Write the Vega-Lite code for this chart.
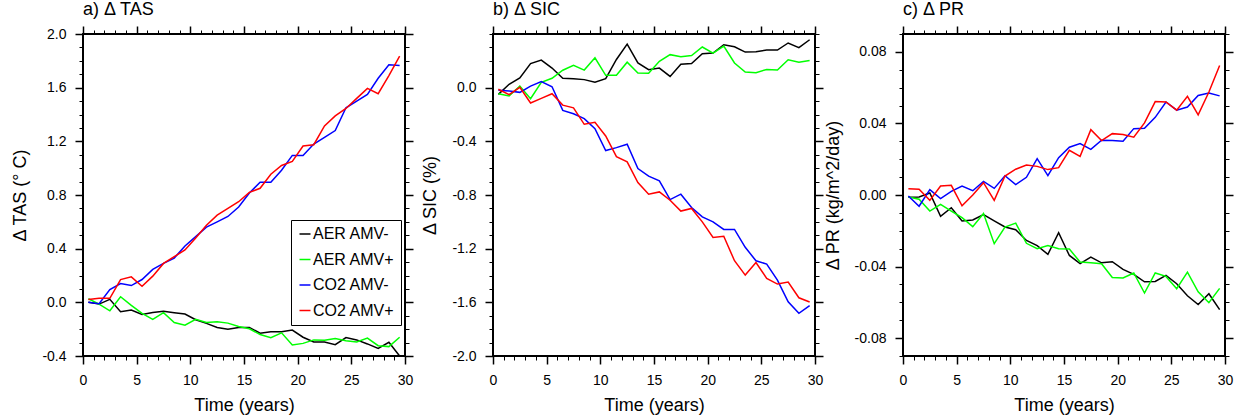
{
"$schema": "https://vega.github.io/schema/vega-lite/v6.json",
"padding": {"left": 10, "top": 0, "right": 5, "bottom": 0},
"spacing": 88,
"bounds": "flush",
"resolve": {"scale": {"color": "independent"}, "legend": {"color": "independent"}},
"config": {
  "font": "Liberation Sans",
  "view": {"stroke": "black", "strokeWidth": 2},
  "locale": {"number": {"decimal": ".", "thousands": ",", "grouping": [3], "currency": ["$", ""], "minus": "-"}},
  "axis": {"domain": false, "grid": false, "tickColor": "black", "labelColor": "black", "titleColor": "black", "labelFont": "Liberation Sans", "titleFont": "Liberation Sans", "labelFontSize": 14, "titleFontSize": 18, "titleFontWeight": "normal", "labelFlush": false, "labelOverlap": false},
  "legend": {"labelFont": "Liberation Sans"}
},
"datasets": {
"tas": [
{"t":0.5,"s":"AER AMV-","v":0.0},{"t":1.5,"s":"AER AMV-","v":-0.013},{"t":2.5,"s":"AER AMV-","v":0.022},{"t":3.5,"s":"AER AMV-","v":-0.07},{"t":4.5,"s":"AER AMV-","v":-0.058},{"t":5.5,"s":"AER AMV-","v":-0.09},{"t":6.5,"s":"AER AMV-","v":-0.075},{"t":7.5,"s":"AER AMV-","v":-0.067},{"t":8.5,"s":"AER AMV-","v":-0.077},{"t":9.5,"s":"AER AMV-","v":-0.087},{"t":10.5,"s":"AER AMV-","v":-0.13},{"t":11.5,"s":"AER AMV-","v":-0.157},{"t":12.5,"s":"AER AMV-","v":-0.187},{"t":13.5,"s":"AER AMV-","v":-0.2},{"t":14.5,"s":"AER AMV-","v":-0.187},{"t":15.5,"s":"AER AMV-","v":-0.187},{"t":16.5,"s":"AER AMV-","v":-0.23},{"t":17.5,"s":"AER AMV-","v":-0.22},{"t":18.5,"s":"AER AMV-","v":-0.22},{"t":19.5,"s":"AER AMV-","v":-0.207},{"t":20.5,"s":"AER AMV-","v":-0.26},{"t":21.5,"s":"AER AMV-","v":-0.296},{"t":22.5,"s":"AER AMV-","v":-0.296},{"t":23.5,"s":"AER AMV-","v":-0.316},{"t":24.5,"s":"AER AMV-","v":-0.263},{"t":25.5,"s":"AER AMV-","v":-0.28},{"t":26.5,"s":"AER AMV-","v":-0.31},{"t":27.5,"s":"AER AMV-","v":-0.343},{"t":28.5,"s":"AER AMV-","v":-0.298},{"t":29.5,"s":"AER AMV-","v":-0.4},
{"t":0.5,"s":"AER AMV+","v":0.027},{"t":1.5,"s":"AER AMV+","v":-0.013},{"t":2.5,"s":"AER AMV+","v":-0.063},{"t":3.5,"s":"AER AMV+","v":0.042},{"t":4.5,"s":"AER AMV+","v":-0.023},{"t":5.5,"s":"AER AMV+","v":-0.083},{"t":6.5,"s":"AER AMV+","v":-0.127},{"t":7.5,"s":"AER AMV+","v":-0.077},{"t":8.5,"s":"AER AMV+","v":-0.15},{"t":9.5,"s":"AER AMV+","v":-0.17},{"t":10.5,"s":"AER AMV+","v":-0.127},{"t":11.5,"s":"AER AMV+","v":-0.15},{"t":12.5,"s":"AER AMV+","v":-0.145},{"t":13.5,"s":"AER AMV+","v":-0.155},{"t":14.5,"s":"AER AMV+","v":-0.18},{"t":15.5,"s":"AER AMV+","v":-0.197},{"t":16.5,"s":"AER AMV+","v":-0.24},{"t":17.5,"s":"AER AMV+","v":-0.263},{"t":18.5,"s":"AER AMV+","v":-0.227},{"t":19.5,"s":"AER AMV+","v":-0.318},{"t":20.5,"s":"AER AMV+","v":-0.306},{"t":21.5,"s":"AER AMV+","v":-0.28},{"t":22.5,"s":"AER AMV+","v":-0.283},{"t":23.5,"s":"AER AMV+","v":-0.27},{"t":24.5,"s":"AER AMV+","v":-0.287},{"t":25.5,"s":"AER AMV+","v":-0.296},{"t":26.5,"s":"AER AMV+","v":-0.266},{"t":27.5,"s":"AER AMV+","v":-0.323},{"t":28.5,"s":"AER AMV+","v":-0.33},{"t":29.5,"s":"AER AMV+","v":-0.26},
{"t":0.5,"s":"CO2 AMV-","v":0.0},{"t":1.5,"s":"CO2 AMV-","v":-0.01},{"t":2.5,"s":"CO2 AMV-","v":0.095},{"t":3.5,"s":"CO2 AMV-","v":0.14},{"t":4.5,"s":"CO2 AMV-","v":0.125},{"t":5.5,"s":"CO2 AMV-","v":0.17},{"t":6.5,"s":"CO2 AMV-","v":0.245},{"t":7.5,"s":"CO2 AMV-","v":0.29},{"t":8.5,"s":"CO2 AMV-","v":0.33},{"t":9.5,"s":"CO2 AMV-","v":0.42},{"t":10.5,"s":"CO2 AMV-","v":0.49},{"t":11.5,"s":"CO2 AMV-","v":0.56},{"t":12.5,"s":"CO2 AMV-","v":0.6},{"t":13.5,"s":"CO2 AMV-","v":0.64},{"t":14.5,"s":"CO2 AMV-","v":0.71},{"t":15.5,"s":"CO2 AMV-","v":0.815},{"t":16.5,"s":"CO2 AMV-","v":0.895},{"t":17.5,"s":"CO2 AMV-","v":0.895},{"t":18.5,"s":"CO2 AMV-","v":0.985},{"t":19.5,"s":"CO2 AMV-","v":1.095},{"t":20.5,"s":"CO2 AMV-","v":1.095},{"t":21.5,"s":"CO2 AMV-","v":1.18},{"t":22.5,"s":"CO2 AMV-","v":1.23},{"t":23.5,"s":"CO2 AMV-","v":1.28},{"t":24.5,"s":"CO2 AMV-","v":1.45},{"t":25.5,"s":"CO2 AMV-","v":1.5},{"t":26.5,"s":"CO2 AMV-","v":1.55},{"t":27.5,"s":"CO2 AMV-","v":1.67},{"t":28.5,"s":"CO2 AMV-","v":1.77},{"t":29.5,"s":"CO2 AMV-","v":1.765},
{"t":0.5,"s":"CO2 AMV+","v":0.022},{"t":1.5,"s":"CO2 AMV+","v":0.03},{"t":2.5,"s":"CO2 AMV+","v":0.03},{"t":3.5,"s":"CO2 AMV+","v":0.17},{"t":4.5,"s":"CO2 AMV+","v":0.19},{"t":5.5,"s":"CO2 AMV+","v":0.12},{"t":6.5,"s":"CO2 AMV+","v":0.195},{"t":7.5,"s":"CO2 AMV+","v":0.29},{"t":8.5,"s":"CO2 AMV+","v":0.34},{"t":9.5,"s":"CO2 AMV+","v":0.39},{"t":10.5,"s":"CO2 AMV+","v":0.48},{"t":11.5,"s":"CO2 AMV+","v":0.575},{"t":12.5,"s":"CO2 AMV+","v":0.65},{"t":13.5,"s":"CO2 AMV+","v":0.7},{"t":14.5,"s":"CO2 AMV+","v":0.75},{"t":15.5,"s":"CO2 AMV+","v":0.82},{"t":16.5,"s":"CO2 AMV+","v":0.85},{"t":17.5,"s":"CO2 AMV+","v":0.955},{"t":18.5,"s":"CO2 AMV+","v":1.02},{"t":19.5,"s":"CO2 AMV+","v":1.05},{"t":20.5,"s":"CO2 AMV+","v":1.165},{"t":21.5,"s":"CO2 AMV+","v":1.175},{"t":22.5,"s":"CO2 AMV+","v":1.315},{"t":23.5,"s":"CO2 AMV+","v":1.39},{"t":24.5,"s":"CO2 AMV+","v":1.445},{"t":25.5,"s":"CO2 AMV+","v":1.52},{"t":26.5,"s":"CO2 AMV+","v":1.595},{"t":27.5,"s":"CO2 AMV+","v":1.555},{"t":28.5,"s":"CO2 AMV+","v":1.69},{"t":29.5,"s":"CO2 AMV+","v":1.835}
],
"sic": [
{"t":0.5,"s":"AER AMV-","v":-0.05},{"t":1.5,"s":"AER AMV-","v":0.025},{"t":2.5,"s":"AER AMV-","v":0.072},{"t":3.5,"s":"AER AMV-","v":0.18},{"t":4.5,"s":"AER AMV-","v":0.206},{"t":5.5,"s":"AER AMV-","v":0.146},{"t":6.5,"s":"AER AMV-","v":0.07},{"t":7.5,"s":"AER AMV-","v":0.067},{"t":8.5,"s":"AER AMV-","v":0.06},{"t":9.5,"s":"AER AMV-","v":0.04},{"t":10.5,"s":"AER AMV-","v":0.067},{"t":11.5,"s":"AER AMV-","v":0.21},{"t":12.5,"s":"AER AMV-","v":0.325},{"t":13.5,"s":"AER AMV-","v":0.184},{"t":14.5,"s":"AER AMV-","v":0.134},{"t":15.5,"s":"AER AMV-","v":0.146},{"t":16.5,"s":"AER AMV-","v":0.084},{"t":17.5,"s":"AER AMV-","v":0.174},{"t":18.5,"s":"AER AMV-","v":0.18},{"t":19.5,"s":"AER AMV-","v":0.253},{"t":20.5,"s":"AER AMV-","v":0.258},{"t":21.5,"s":"AER AMV-","v":0.32},{"t":22.5,"s":"AER AMV-","v":0.305},{"t":23.5,"s":"AER AMV-","v":0.265},{"t":24.5,"s":"AER AMV-","v":0.268},{"t":25.5,"s":"AER AMV-","v":0.28},{"t":26.5,"s":"AER AMV-","v":0.28},{"t":27.5,"s":"AER AMV-","v":0.333},{"t":28.5,"s":"AER AMV-","v":0.298},{"t":29.5,"s":"AER AMV-","v":0.357},
{"t":0.5,"s":"AER AMV+","v":-0.045},{"t":1.5,"s":"AER AMV+","v":-0.062},{"t":2.5,"s":"AER AMV+","v":0.012},{"t":3.5,"s":"AER AMV+","v":-0.082},{"t":4.5,"s":"AER AMV+","v":0.04},{"t":5.5,"s":"AER AMV+","v":0.07},{"t":6.5,"s":"AER AMV+","v":0.13},{"t":7.5,"s":"AER AMV+","v":0.166},{"t":8.5,"s":"AER AMV+","v":0.131},{"t":9.5,"s":"AER AMV+","v":0.223},{"t":10.5,"s":"AER AMV+","v":0.092},{"t":11.5,"s":"AER AMV+","v":0.092},{"t":12.5,"s":"AER AMV+","v":0.19},{"t":13.5,"s":"AER AMV+","v":0.11},{"t":14.5,"s":"AER AMV+","v":0.107},{"t":15.5,"s":"AER AMV+","v":0.196},{"t":16.5,"s":"AER AMV+","v":0.246},{"t":17.5,"s":"AER AMV+","v":0.231},{"t":18.5,"s":"AER AMV+","v":0.24},{"t":19.5,"s":"AER AMV+","v":0.303},{"t":20.5,"s":"AER AMV+","v":0.258},{"t":21.5,"s":"AER AMV+","v":0.31},{"t":22.5,"s":"AER AMV+","v":0.184},{"t":23.5,"s":"AER AMV+","v":0.117},{"t":24.5,"s":"AER AMV+","v":0.112},{"t":25.5,"s":"AER AMV+","v":0.136},{"t":26.5,"s":"AER AMV+","v":0.131},{"t":27.5,"s":"AER AMV+","v":0.208},{"t":28.5,"s":"AER AMV+","v":0.19},{"t":29.5,"s":"AER AMV+","v":0.203},
{"t":0.5,"s":"CO2 AMV-","v":-0.02},{"t":1.5,"s":"CO2 AMV-","v":-0.025},{"t":2.5,"s":"CO2 AMV-","v":-0.035},{"t":3.5,"s":"CO2 AMV-","v":0.012},{"t":4.5,"s":"CO2 AMV-","v":0.045},{"t":5.5,"s":"CO2 AMV-","v":0.007},{"t":6.5,"s":"CO2 AMV-","v":-0.169},{"t":7.5,"s":"CO2 AMV-","v":-0.194},{"t":8.5,"s":"CO2 AMV-","v":-0.231},{"t":9.5,"s":"CO2 AMV-","v":-0.305},{"t":10.5,"s":"CO2 AMV-","v":-0.469},{"t":11.5,"s":"CO2 AMV-","v":-0.447},{"t":12.5,"s":"CO2 AMV-","v":-0.422},{"t":13.5,"s":"CO2 AMV-","v":-0.603},{"t":14.5,"s":"CO2 AMV-","v":-0.66},{"t":15.5,"s":"CO2 AMV-","v":-0.695},{"t":16.5,"s":"CO2 AMV-","v":-0.834},{"t":17.5,"s":"CO2 AMV-","v":-0.794},{"t":18.5,"s":"CO2 AMV-","v":-0.893},{"t":19.5,"s":"CO2 AMV-","v":-0.963},{"t":20.5,"s":"CO2 AMV-","v":-1.0},{"t":21.5,"s":"CO2 AMV-","v":-1.057},{"t":22.5,"s":"CO2 AMV-","v":-1.057},{"t":23.5,"s":"CO2 AMV-","v":-1.19},{"t":24.5,"s":"CO2 AMV-","v":-1.29},{"t":25.5,"s":"CO2 AMV-","v":-1.315},{"t":26.5,"s":"CO2 AMV-","v":-1.434},{"t":27.5,"s":"CO2 AMV-","v":-1.596},{"t":28.5,"s":"CO2 AMV-","v":-1.682},{"t":29.5,"s":"CO2 AMV-","v":-1.625},
{"t":0.5,"s":"CO2 AMV+","v":-0.012},{"t":1.5,"s":"CO2 AMV+","v":-0.052},{"t":2.5,"s":"CO2 AMV+","v":0.003},{"t":3.5,"s":"CO2 AMV+","v":-0.114},{"t":4.5,"s":"CO2 AMV+","v":-0.08},{"t":5.5,"s":"CO2 AMV+","v":-0.045},{"t":6.5,"s":"CO2 AMV+","v":-0.13},{"t":7.5,"s":"CO2 AMV+","v":-0.15},{"t":8.5,"s":"CO2 AMV+","v":-0.273},{"t":9.5,"s":"CO2 AMV+","v":-0.258},{"t":10.5,"s":"CO2 AMV+","v":-0.36},{"t":11.5,"s":"CO2 AMV+","v":-0.514},{"t":12.5,"s":"CO2 AMV+","v":-0.553},{"t":13.5,"s":"CO2 AMV+","v":-0.707},{"t":14.5,"s":"CO2 AMV+","v":-0.794},{"t":15.5,"s":"CO2 AMV+","v":-0.777},{"t":16.5,"s":"CO2 AMV+","v":-0.839},{"t":17.5,"s":"CO2 AMV+","v":-0.92},{"t":18.5,"s":"CO2 AMV+","v":-0.9},{"t":19.5,"s":"CO2 AMV+","v":-1.0},{"t":20.5,"s":"CO2 AMV+","v":-1.117},{"t":21.5,"s":"CO2 AMV+","v":-1.107},{"t":22.5,"s":"CO2 AMV+","v":-1.29},{"t":23.5,"s":"CO2 AMV+","v":-1.397},{"t":24.5,"s":"CO2 AMV+","v":-1.303},{"t":25.5,"s":"CO2 AMV+","v":-1.422},{"t":26.5,"s":"CO2 AMV+","v":-1.464},{"t":27.5,"s":"CO2 AMV+","v":-1.449},{"t":28.5,"s":"CO2 AMV+","v":-1.566},{"t":29.5,"s":"CO2 AMV+","v":-1.598}
],
"pr": [
{"t":0.5,"s":"AER AMV-","v":-0.0013},{"t":1.5,"s":"AER AMV-","v":-0.0011},{"t":2.5,"s":"AER AMV-","v":0.0011},{"t":3.5,"s":"AER AMV-","v":-0.0119},{"t":4.5,"s":"AER AMV-","v":-0.0071},{"t":5.5,"s":"AER AMV-","v":-0.0145},{"t":6.5,"s":"AER AMV-","v":-0.014},{"t":7.5,"s":"AER AMV-","v":-0.011},{"t":8.5,"s":"AER AMV-","v":-0.0145},{"t":9.5,"s":"AER AMV-","v":-0.0179},{"t":10.5,"s":"AER AMV-","v":-0.0194},{"t":11.5,"s":"AER AMV-","v":-0.0254},{"t":12.5,"s":"AER AMV-","v":-0.0283},{"t":13.5,"s":"AER AMV-","v":-0.0332},{"t":14.5,"s":"AER AMV-","v":-0.0211},{"t":15.5,"s":"AER AMV-","v":-0.0338},{"t":16.5,"s":"AER AMV-","v":-0.0384},{"t":17.5,"s":"AER AMV-","v":-0.0347},{"t":18.5,"s":"AER AMV-","v":-0.0379},{"t":19.5,"s":"AER AMV-","v":-0.0373},{"t":20.5,"s":"AER AMV-","v":-0.0416},{"t":21.5,"s":"AER AMV-","v":-0.0444},{"t":22.5,"s":"AER AMV-","v":-0.0485},{"t":23.5,"s":"AER AMV-","v":-0.0483},{"t":24.5,"s":"AER AMV-","v":-0.0449},{"t":25.5,"s":"AER AMV-","v":-0.0496},{"t":26.5,"s":"AER AMV-","v":-0.0563},{"t":27.5,"s":"AER AMV-","v":-0.0612},{"t":28.5,"s":"AER AMV-","v":-0.0552},{"t":29.5,"s":"AER AMV-","v":-0.0641},
{"t":0.5,"s":"AER AMV+","v":-0.0011},{"t":1.5,"s":"AER AMV+","v":-0.0024},{"t":2.5,"s":"AER AMV+","v":-0.009},{"t":3.5,"s":"AER AMV+","v":-0.0052},{"t":4.5,"s":"AER AMV+","v":-0.009},{"t":5.5,"s":"AER AMV+","v":-0.0127},{"t":6.5,"s":"AER AMV+","v":-0.0177},{"t":7.5,"s":"AER AMV+","v":-0.0104},{"t":8.5,"s":"AER AMV+","v":-0.0272},{"t":9.5,"s":"AER AMV+","v":-0.0179},{"t":10.5,"s":"AER AMV+","v":-0.0157},{"t":11.5,"s":"AER AMV+","v":-0.027},{"t":12.5,"s":"AER AMV+","v":-0.03},{"t":13.5,"s":"AER AMV+","v":-0.0282},{"t":14.5,"s":"AER AMV+","v":-0.03},{"t":15.5,"s":"AER AMV+","v":-0.0302},{"t":16.5,"s":"AER AMV+","v":-0.0375},{"t":17.5,"s":"AER AMV+","v":-0.0379},{"t":18.5,"s":"AER AMV+","v":-0.0384},{"t":19.5,"s":"AER AMV+","v":-0.0461},{"t":20.5,"s":"AER AMV+","v":-0.0464},{"t":21.5,"s":"AER AMV+","v":-0.0436},{"t":22.5,"s":"AER AMV+","v":-0.0548},{"t":23.5,"s":"AER AMV+","v":-0.0436},{"t":24.5,"s":"AER AMV+","v":-0.0455},{"t":25.5,"s":"AER AMV+","v":-0.0524},{"t":26.5,"s":"AER AMV+","v":-0.0431},{"t":27.5,"s":"AER AMV+","v":-0.0541},{"t":28.5,"s":"AER AMV+","v":-0.0602},{"t":29.5,"s":"AER AMV+","v":-0.0522},
{"t":0.5,"s":"CO2 AMV-","v":-0.0006},{"t":1.5,"s":"CO2 AMV-","v":-0.0063},{"t":2.5,"s":"CO2 AMV-","v":0.003},{"t":3.5,"s":"CO2 AMV-","v":-0.002},{"t":4.5,"s":"CO2 AMV-","v":0.002},{"t":5.5,"s":"CO2 AMV-","v":0.005},{"t":6.5,"s":"CO2 AMV-","v":0.0024},{"t":7.5,"s":"CO2 AMV-","v":0.0076},{"t":8.5,"s":"CO2 AMV-","v":0.0037},{"t":9.5,"s":"CO2 AMV-","v":0.0108},{"t":10.5,"s":"CO2 AMV-","v":0.0058},{"t":11.5,"s":"CO2 AMV-","v":0.0099},{"t":12.5,"s":"CO2 AMV-","v":0.0203},{"t":13.5,"s":"CO2 AMV-","v":0.0108},{"t":14.5,"s":"CO2 AMV-","v":0.0209},{"t":15.5,"s":"CO2 AMV-","v":0.0267},{"t":16.5,"s":"CO2 AMV-","v":0.0287},{"t":17.5,"s":"CO2 AMV-","v":0.0255},{"t":18.5,"s":"CO2 AMV-","v":0.0306},{"t":19.5,"s":"CO2 AMV-","v":0.0304},{"t":20.5,"s":"CO2 AMV-","v":0.03},{"t":21.5,"s":"CO2 AMV-","v":0.0371},{"t":22.5,"s":"CO2 AMV-","v":0.0373},{"t":23.5,"s":"CO2 AMV-","v":0.0434},{"t":24.5,"s":"CO2 AMV-","v":0.052},{"t":25.5,"s":"CO2 AMV-","v":0.0474},{"t":26.5,"s":"CO2 AMV-","v":0.0492},{"t":27.5,"s":"CO2 AMV-","v":0.0556},{"t":28.5,"s":"CO2 AMV-","v":0.057},{"t":29.5,"s":"CO2 AMV-","v":0.0554},
{"t":0.5,"s":"CO2 AMV+","v":0.0035},{"t":1.5,"s":"CO2 AMV+","v":0.0032},{"t":2.5,"s":"CO2 AMV+","v":-0.003},{"t":3.5,"s":"CO2 AMV+","v":0.005},{"t":4.5,"s":"CO2 AMV+","v":0.0054},{"t":5.5,"s":"CO2 AMV+","v":-0.006},{"t":6.5,"s":"CO2 AMV+","v":0.0},{"t":7.5,"s":"CO2 AMV+","v":0.0069},{"t":8.5,"s":"CO2 AMV+","v":-0.003},{"t":9.5,"s":"CO2 AMV+","v":0.0106},{"t":10.5,"s":"CO2 AMV+","v":0.0144},{"t":11.5,"s":"CO2 AMV+","v":0.0168},{"t":12.5,"s":"CO2 AMV+","v":0.016},{"t":13.5,"s":"CO2 AMV+","v":0.0142},{"t":14.5,"s":"CO2 AMV+","v":0.0153},{"t":15.5,"s":"CO2 AMV+","v":0.025},{"t":16.5,"s":"CO2 AMV+","v":0.0216},{"t":17.5,"s":"CO2 AMV+","v":0.0365},{"t":18.5,"s":"CO2 AMV+","v":0.0304},{"t":19.5,"s":"CO2 AMV+","v":0.0343},{"t":20.5,"s":"CO2 AMV+","v":0.0338},{"t":21.5,"s":"CO2 AMV+","v":0.0323},{"t":22.5,"s":"CO2 AMV+","v":0.0403},{"t":23.5,"s":"CO2 AMV+","v":0.0522},{"t":24.5,"s":"CO2 AMV+","v":0.052},{"t":25.5,"s":"CO2 AMV+","v":0.0474},{"t":26.5,"s":"CO2 AMV+","v":0.0552},{"t":27.5,"s":"CO2 AMV+","v":0.0448},{"t":28.5,"s":"CO2 AMV+","v":0.0576},{"t":29.5,"s":"CO2 AMV+","v":0.0724}
]
},
"hconcat": [
{
 "width": 322, "height": 322,
 "title": {"text": "a) Δ TAS", "fontSize": 18, "fontWeight": "normal", "font": "Liberation Sans", "color": "black", "anchor": "start", "frame": "group", "baseline": "alphabetic", "offset": -8},
 "data": {"name": "tas"},
 "resolve": {"axis": {"x": "independent", "y": "independent"}},
 "layer": [
  {"mark": {"type": "line", "strokeWidth": 1.5},
   "encoding": {
    "x": {"field": "t", "type": "quantitative", "scale": {"domain": [0, 30], "nice": false}, "axis": {"orient": "bottom", "values": [0,5,10,15,20,25,30], "tickSize": 8, "tickWidth": 1.5, "labelPadding": 9, "title": null}},
    "y": {"field": "v", "type": "quantitative", "scale": {"domain": [-0.4, 2.0], "nice": false, "zero": false}, "axis": {"orient": "left", "values": [-0.4,0,0.4,0.8,1.2,1.6,2.0], "format": ".1f", "tickSize": 8, "tickWidth": 1.5, "labelPadding": 9, "title": "Δ TAS (° C)", "titlePadding": 12, "titleFontWeight": "normal", "titleFontSize": 18}},
    "color": {"field": "s", "type": "nominal", "scale": {"domain": ["AER AMV-", "AER AMV+", "CO2 AMV-", "CO2 AMV+"], "range": ["#000000", "#00ff00", "#0000ff", "#ff0000"]},
     "legend": {"orient": "none", "legendX": 208, "legendY": 186, "title": null, "symbolType": "stroke", "symbolSize": 121, "symbolStrokeWidth": 1.5, "labelFontSize": 16, "labelColor": "black", "strokeColor": "black", "fillColor": "white", "padding": 6, "rowPadding": 9.5, "labelOffset": 0}}
   }},
  {"mark": {"type": "point", "opacity": 0},
   "encoding": {
    "x": {"field": "t", "type": "quantitative", "axis": {"orient": "bottom", "values": [0,1,2,3,4,5,6,7,8,9,10,11,12,13,14,15,16,17,18,19,20,21,22,23,24,25,26,27,28,29,30], "labels": false, "tickSize": 4, "tickWidth": 1, "title": "Time (years)", "titlePadding": 36, "titleFontWeight": 400, "titleFontSize": 18}},
    "y": {"field": "v", "type": "quantitative", "axis": {"orient": "left", "values": [-0.4,-0.3,-0.2,-0.1,0,0.1,0.2,0.3,0.4,0.5,0.6,0.7,0.8,0.9,1.0,1.1,1.2,1.3,1.4,1.5,1.6,1.7,1.8,1.9,2.0], "labels": false, "tickSize": 4, "tickWidth": 1, "title": null}}
   }},
  {"mark": {"type": "point", "opacity": 0},
   "encoding": {
    "x": {"field": "t", "type": "quantitative", "axis": {"orient": "top", "values": [0,5,10,15,20,25,30], "labels": false, "tickSize": 8, "tickWidth": 1.5, "title": null}},
    "y": {"field": "v", "type": "quantitative", "axis": {"orient": "right", "values": [-0.4,0,0.4,0.8,1.2,1.6,2.0], "labels": false, "tickSize": 8, "tickWidth": 1.5, "title": null}}
   }},
  {"mark": {"type": "point", "opacity": 0},
   "encoding": {
    "x": {"field": "t", "type": "quantitative", "axis": {"orient": "top", "values": [0,1,2,3,4,5,6,7,8,9,10,11,12,13,14,15,16,17,18,19,20,21,22,23,24,25,26,27,28,29,30], "labels": false, "tickSize": 4, "tickWidth": 1, "title": null}},
    "y": {"field": "v", "type": "quantitative", "axis": {"orient": "right", "values": [-0.4,-0.3,-0.2,-0.1,0,0.1,0.2,0.3,0.4,0.5,0.6,0.7,0.8,0.9,1.0,1.1,1.2,1.3,1.4,1.5,1.6,1.7,1.8,1.9,2.0], "labels": false, "tickSize": 4, "tickWidth": 1, "title": null}}
   }}
 ]
},
{
 "width": 322, "height": 322,
 "title": {"text": "b) Δ SIC", "fontSize": 18, "fontWeight": "normal", "font": "Liberation Sans", "color": "black", "anchor": "start", "frame": "group", "baseline": "alphabetic", "offset": -8},
 "data": {"name": "sic"},
 "resolve": {"axis": {"x": "independent", "y": "independent"}},
 "layer": [
  {"mark": {"type": "line", "strokeWidth": 1.5},
   "encoding": {
    "x": {"field": "t", "type": "quantitative", "scale": {"domain": [0, 30], "nice": false}, "axis": {"orient": "bottom", "values": [0,5,10,15,20,25,30], "tickSize": 8, "tickWidth": 1.5, "labelPadding": 9, "title": null}},
    "y": {"field": "v", "type": "quantitative", "scale": {"domain": [-2.0, 0.4], "nice": false, "zero": false}, "axis": {"orient": "left", "values": [-2.0,-1.6,-1.2,-0.8,-0.4,0], "format": ".1f", "tickSize": 8, "tickWidth": 1.5, "labelPadding": 9, "title": "Δ SIC (%)", "titlePadding": 12, "titleFontWeight": "normal", "titleFontSize": 18}},
    "color": {"field": "s", "type": "nominal", "scale": {"domain": ["AER AMV-", "AER AMV+", "CO2 AMV-", "CO2 AMV+"], "range": ["#000000", "#00ff00", "#0000ff", "#ff0000"]}, "legend": null}
   }},
  {"mark": {"type": "point", "opacity": 0},
   "encoding": {
    "x": {"field": "t", "type": "quantitative", "axis": {"orient": "bottom", "values": [0,1,2,3,4,5,6,7,8,9,10,11,12,13,14,15,16,17,18,19,20,21,22,23,24,25,26,27,28,29,30], "labels": false, "tickSize": 4, "tickWidth": 1, "title": "Time (years)", "titlePadding": 36, "titleFontWeight": 400, "titleFontSize": 18}},
    "y": {"field": "v", "type": "quantitative", "axis": {"orient": "left", "values": [-2.0,-1.9,-1.8,-1.7,-1.6,-1.5,-1.4,-1.3,-1.2,-1.1,-1.0,-0.9,-0.8,-0.7,-0.6,-0.5,-0.4,-0.3,-0.2,-0.1,0,0.1,0.2,0.3,0.4], "labels": false, "tickSize": 4, "tickWidth": 1, "title": null}}
   }},
  {"mark": {"type": "point", "opacity": 0},
   "encoding": {
    "x": {"field": "t", "type": "quantitative", "axis": {"orient": "top", "values": [0,5,10,15,20,25,30], "labels": false, "tickSize": 8, "tickWidth": 1.5, "title": null}},
    "y": {"field": "v", "type": "quantitative", "axis": {"orient": "right", "values": [-2.0,-1.6,-1.2,-0.8,-0.4,0], "labels": false, "tickSize": 8, "tickWidth": 1.5, "title": null}}
   }},
  {"mark": {"type": "point", "opacity": 0},
   "encoding": {
    "x": {"field": "t", "type": "quantitative", "axis": {"orient": "top", "values": [0,1,2,3,4,5,6,7,8,9,10,11,12,13,14,15,16,17,18,19,20,21,22,23,24,25,26,27,28,29,30], "labels": false, "tickSize": 4, "tickWidth": 1, "title": null}},
    "y": {"field": "v", "type": "quantitative", "axis": {"orient": "right", "values": [-2.0,-1.9,-1.8,-1.7,-1.6,-1.5,-1.4,-1.3,-1.2,-1.1,-1.0,-0.9,-0.8,-0.7,-0.6,-0.5,-0.4,-0.3,-0.2,-0.1,0,0.1,0.2,0.3,0.4], "labels": false, "tickSize": 4, "tickWidth": 1, "title": null}}
   }}
 ]
},
{
 "width": 322, "height": 322,
 "title": {"text": "c) Δ PR", "fontSize": 18, "fontWeight": "normal", "font": "Liberation Sans", "color": "black", "anchor": "start", "frame": "group", "baseline": "alphabetic", "offset": -8},
 "data": {"name": "pr"},
 "resolve": {"axis": {"x": "independent", "y": "independent"}},
 "layer": [
  {"mark": {"type": "line", "strokeWidth": 1.5},
   "encoding": {
    "x": {"field": "t", "type": "quantitative", "scale": {"domain": [0, 30], "nice": false}, "axis": {"orient": "bottom", "values": [0,5,10,15,20,25,30], "tickSize": 8, "tickWidth": 1.5, "labelPadding": 9, "title": null}},
    "y": {"field": "v", "type": "quantitative", "scale": {"domain": [-0.09, 0.09], "nice": false, "zero": false}, "axis": {"orient": "left", "values": [-0.08,-0.04,0,0.04,0.08], "format": ".2f", "tickSize": 8, "tickWidth": 1.5, "labelPadding": 9, "title": "Δ PR (kg/m^2/day)", "titlePadding": 12, "titleFontWeight": "normal", "titleFontSize": 18}},
    "color": {"field": "s", "type": "nominal", "scale": {"domain": ["AER AMV-", "AER AMV+", "CO2 AMV-", "CO2 AMV+"], "range": ["#000000", "#00ff00", "#0000ff", "#ff0000"]}, "legend": null}
   }},
  {"mark": {"type": "point", "opacity": 0},
   "encoding": {
    "x": {"field": "t", "type": "quantitative", "axis": {"orient": "bottom", "values": [0,1,2,3,4,5,6,7,8,9,10,11,12,13,14,15,16,17,18,19,20,21,22,23,24,25,26,27,28,29,30], "labels": false, "tickSize": 4, "tickWidth": 1, "title": "Time (years)", "titlePadding": 36, "titleFontWeight": 400, "titleFontSize": 18}},
    "y": {"field": "v", "type": "quantitative", "axis": {"orient": "left", "values": [-0.09,-0.08,-0.07,-0.06,-0.05,-0.04,-0.03,-0.02,-0.01,0,0.01,0.02,0.03,0.04,0.05,0.06,0.07,0.08,0.09], "labels": false, "tickSize": 4, "tickWidth": 1, "title": null}}
   }},
  {"mark": {"type": "point", "opacity": 0},
   "encoding": {
    "x": {"field": "t", "type": "quantitative", "axis": {"orient": "top", "values": [0,5,10,15,20,25,30], "labels": false, "tickSize": 8, "tickWidth": 1.5, "title": null}},
    "y": {"field": "v", "type": "quantitative", "axis": {"orient": "right", "values": [-0.08,-0.04,0,0.04,0.08], "labels": false, "tickSize": 8, "tickWidth": 1.5, "title": null}}
   }},
  {"mark": {"type": "point", "opacity": 0},
   "encoding": {
    "x": {"field": "t", "type": "quantitative", "axis": {"orient": "top", "values": [0,1,2,3,4,5,6,7,8,9,10,11,12,13,14,15,16,17,18,19,20,21,22,23,24,25,26,27,28,29,30], "labels": false, "tickSize": 4, "tickWidth": 1, "title": null}},
    "y": {"field": "v", "type": "quantitative", "axis": {"orient": "right", "values": [-0.09,-0.08,-0.07,-0.06,-0.05,-0.04,-0.03,-0.02,-0.01,0,0.01,0.02,0.03,0.04,0.05,0.06,0.07,0.08,0.09], "labels": false, "tickSize": 4, "tickWidth": 1, "title": null}}
   }}
 ]
}
]
}
